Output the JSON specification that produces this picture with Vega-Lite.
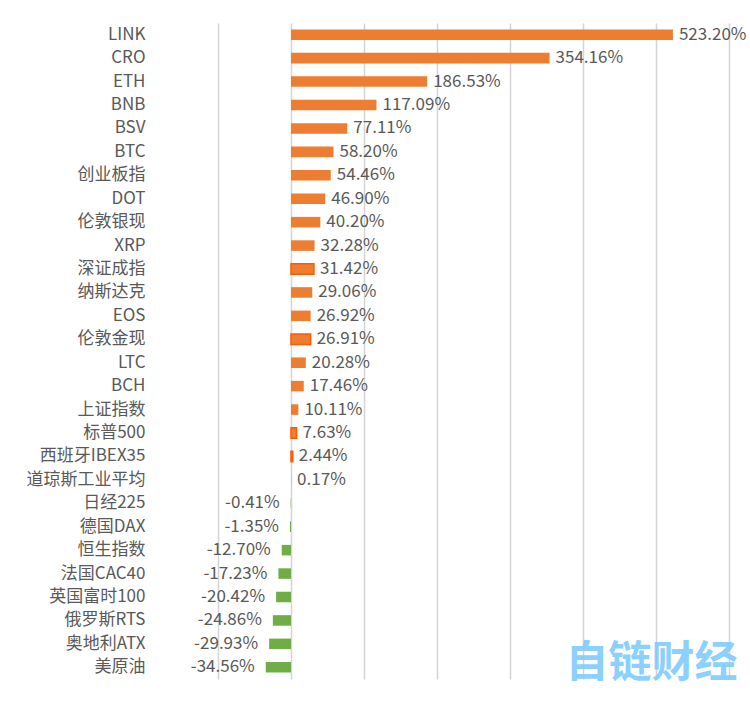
{
  "$schema": "https://vega.github.io/schema/vega-lite/v6.json",
  "autosize": "none",
  "width": 511,
  "height": 656,
  "padding": {"left": 218, "top": 23, "right": 21, "bottom": 22},
  "background": "white",
  "config": {"view": {"stroke": null}, "font": "Noto Sans CJK SC"},
  "datasets": {
    "main": [
      {"name": "LINK", "value": 523.20},
      {"name": "CRO", "value": 354.16},
      {"name": "ETH", "value": 186.53},
      {"name": "BNB", "value": 117.09},
      {"name": "BSV", "value": 77.11},
      {"name": "BTC", "value": 58.20},
      {"name": "创业板指", "value": 54.46},
      {"name": "DOT", "value": 46.90},
      {"name": "伦敦银现", "value": 40.20},
      {"name": "XRP", "value": 32.28},
      {"name": "深证成指", "value": 31.42},
      {"name": "纳斯达克", "value": 29.06},
      {"name": "EOS", "value": 26.92},
      {"name": "伦敦金现", "value": 26.91},
      {"name": "LTC", "value": 20.28},
      {"name": "BCH", "value": 17.46},
      {"name": "上证指数", "value": 10.11},
      {"name": "标普500", "value": 7.63},
      {"name": "西班牙IBEX35", "value": 2.44},
      {"name": "道琼斯工业平均", "value": 0.17},
      {"name": "日经225", "value": -0.41},
      {"name": "德国DAX", "value": -1.35},
      {"name": "恒生指数", "value": -12.70},
      {"name": "法国CAC40", "value": -17.23},
      {"name": "英国富时100", "value": -20.42},
      {"name": "俄罗斯RTS", "value": -24.86},
      {"name": "奥地利ATX", "value": -29.93},
      {"name": "美原油", "value": -34.56}
    ],
    "wm": [{"wm": "自链财经"}]
  },
  "layer": [
    {
      "data": {"name": "main"},
      "transform": [{"calculate": "replace(format(datum.value, '.2f'), '−', '-') + '%'", "as": "label"}],
      "encoding": {
        "y": {
          "field": "name", "type": "nominal", "sort": null, "title": null,
          "scale": {"paddingInner": 0.55, "paddingOuter": 0.275},
          "axis": {"ticks": false, "domain": false, "labelPadding": 73, "labelFontSize": 17, "labelColor": "#595959", "labelFont": "Noto Sans CJK SC"}
        },
        "x": {
          "field": "value", "type": "quantitative", "title": null,
          "scale": {"domain": [-100, 600], "nice": false, "zero": false},
          "axis": {"values": [-100, 0, 100, 200, 300, 400, 500, 600], "labels": false, "ticks": false, "domain": false, "grid": true, "gridColor": "#D4D4D4", "gridWidth": 1.5}
        }
      },
      "layer": [
        {
          "mark": {"type": "bar", "strokeWidth": 1.5},
          "encoding": {
            "color": {"condition": {"test": "datum.value < 0", "value": "#70AD47"}, "value": "#ED7D31"},
            "stroke": {"condition": {"test": "indexof(['深证成指','伦敦金现','标普500','西班牙IBEX35'], datum.name) >= 0", "value": "#FF5A00"}, "value": null}
          }
        },
        {
          "transform": [{"filter": "datum.value >= 0"}],
          "mark": {"type": "text", "align": "left", "baseline": "middle", "dx": 6, "fontSize": 17, "color": "#595959"},
          "encoding": {"text": {"field": "label"}}
        },
        {
          "transform": [{"filter": "datum.value < 0"}],
          "mark": {"type": "text", "align": "right", "baseline": "middle", "dx": -11, "fontSize": 17, "color": "#595959"},
          "encoding": {"text": {"field": "label"}}
        }
      ]
    },
    {
      "data": {"name": "wm"},
      "mark": {"type": "text", "align": "center", "baseline": "middle", "fontSize": 43, "fontWeight": "bold", "color": "#7FCBFF", "opacity": 0.9, "dy": -3},
      "encoding": {
        "text": {"field": "wm", "type": "nominal"},
        "x": {"datum": 494, "type": "quantitative"},
        "y": {"datum": "美原油", "type": "nominal"}
      }
    }
  ]
}
